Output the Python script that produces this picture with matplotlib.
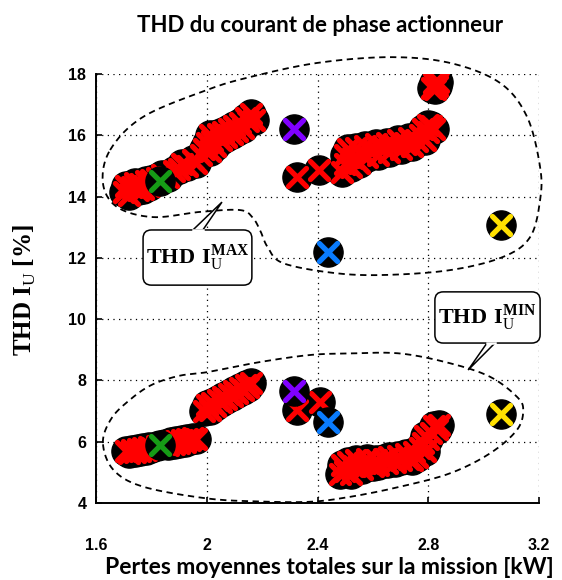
import numpy as np
import matplotlib
matplotlib.use("Agg")
import matplotlib.pyplot as plt
from matplotlib.markers import MarkerStyle
from matplotlib.patches import FancyBboxPatch, Polygon

plt.rcParams['mathtext.fontset'] = 'custom'
plt.rcParams['mathtext.rm'] = 'Liberation Serif'
plt.rcParams['mathtext.bf'] = 'Liberation Serif:bold'

# =========================
# Data
# =========================

# THD max, nuage gauche
max_a_x = [1.70, 1.71, 1.72, 1.73, 1.74, 1.75, 1.76, 1.77, 1.78, 1.79, 1.80, 1.82,
           1.84, 1.86, 1.88, 1.90, 1.91, 1.93, 1.95, 1.96, 1.98, 1.99, 2.00, 2.01,
           2.01, 2.02, 2.03, 2.04, 2.05, 2.06, 2.07, 2.08, 2.09, 2.10, 2.11, 2.12,
           2.13, 2.14, 2.15, 2.16, 2.17]
max_a_y = [14.15, 14.35, 14.05, 14.30, 14.45, 14.20, 14.40, 14.25, 14.50, 14.35, 14.55, 14.60,
           14.70, 14.65, 14.85, 14.90, 15.05, 15.00, 15.20, 15.10, 15.35, 15.55, 15.75, 15.50,
           16.00, 15.80, 15.65, 16.05, 15.85, 16.10, 15.95, 16.20, 16.05, 16.30, 16.15, 16.40,
           16.25, 16.55, 16.45, 16.70, 16.50]

# THD max, nuage droit
max_b_x = [2.325, 2.407, 2.49, 2.50, 2.50, 2.51, 2.52, 2.53, 2.54, 2.55, 2.56, 2.57,
           2.58, 2.60, 2.61, 2.62, 2.64, 2.65, 2.66, 2.68, 2.69, 2.70, 2.72, 2.73,
           2.74, 2.76, 2.77, 2.78, 2.79, 2.80, 2.81, 2.82, 2.80,
           2.815, 2.82, 2.83, 2.835, 2.825]
max_b_y = [14.65, 14.87, 14.80, 15.05, 15.35, 15.55, 14.95, 15.25, 15.60, 15.10, 15.40, 15.65,
           15.30, 15.50, 15.70, 15.35, 15.60, 15.75, 15.45, 15.65, 15.85, 15.55, 15.70, 15.90,
           15.65, 15.80, 16.00, 16.20, 15.85, 16.10, 16.30, 16.20, 16.35,
           17.55, 17.70, 17.60, 17.75, 17.50]

# THD min, nuage gauche
min_a_x = [1.71, 1.72, 1.73, 1.74, 1.75, 1.76, 1.77, 1.78, 1.79, 1.80, 1.82, 1.85,
           1.86, 1.87, 1.88, 1.89, 1.90, 1.91, 1.92, 1.93, 1.94, 1.95, 1.96,
           1.99, 2.00, 2.01, 2.02, 2.03, 2.04, 2.05, 2.06, 2.07, 2.08, 2.09, 2.10,
           2.11, 2.12, 2.13, 2.14, 2.15, 2.16]
min_a_y = [5.70, 5.62, 5.74, 5.66, 5.76, 5.70, 5.80, 5.74, 5.84, 5.78, 5.86, 5.94,
           5.88, 5.98, 5.92, 6.02, 5.96, 6.04, 6.00, 6.08, 6.04, 6.12, 6.08,
           7.00, 7.20, 7.05, 7.25, 7.15, 7.35, 7.30, 7.45, 7.40, 7.55, 7.50, 7.65,
           7.60, 7.75, 7.70, 7.85, 7.80, 7.90]

# THD min, nuage droit
min_b_x = [2.325, 2.41, 2.48, 2.49, 2.50, 2.51, 2.52, 2.53, 2.54, 2.56, 2.57, 2.58,
           2.60, 2.61, 2.62, 2.64, 2.65, 2.66, 2.68, 2.69, 2.70, 2.72, 2.73, 2.74,
           2.75, 2.76, 2.77, 2.78, 2.79, 2.79, 2.80, 2.81, 2.82, 2.83, 2.84]
min_b_y = [7.03, 7.28, 4.95, 5.25, 5.05, 5.35, 4.95, 5.20, 5.40, 5.10, 5.30, 5.45,
           5.20, 5.40, 5.25, 5.45, 5.30, 5.50, 5.35, 5.55, 5.40, 5.60, 5.45, 5.40,
           5.65, 5.50, 5.80, 5.95, 5.70, 6.20, 6.10, 6.30, 6.50, 6.40, 6.55]

# points particuliers (memes pertes pour max et min)
special_colors = ['#169b16', '#8000ff', '#0a7cff', '#ffe000']
special_x = [1.83, 2.315, 2.437, 3.062]
special_max_y = [14.50, 16.20, 12.20, 13.07]
special_min_y = [5.90, 7.67, 6.65, 6.89]

# contours en pointilles
max_zone_x = [1.651, 1.770, 2.001, 2.156, 2.398, 2.662, 2.879, 3.059, 3.157, 3.204,
              3.204, 3.168, 3.070, 2.879, 2.637, 2.456, 2.275, 2.220, 2.195, 2.167,
              2.120, 1.976, 1.806, 1.676, 1.625]
max_zone_y = [15.52, 16.60, 17.48, 17.90, 18.36, 18.55, 18.36, 17.71, 16.60, 14.96,
              13.89, 12.68, 12.03, 11.60, 11.44, 11.51, 11.83, 12.35, 12.85, 13.30,
              13.56, 13.50, 13.33, 13.66, 14.44]

min_zone_x = [1.625, 1.655, 1.720, 1.800, 1.900, 2.001, 2.192, 2.373, 2.517, 2.698,
              2.879, 3.023, 3.120, 3.143, 3.120, 3.023, 2.879, 2.698, 2.517, 2.373,
              2.190, 2.000, 1.771, 1.663]
min_zone_y = [5.96, 6.75, 7.35, 7.85, 8.15, 8.27, 8.60, 8.83, 8.88, 8.88,
              8.56, 8.12, 7.47, 7.03, 6.38, 5.62, 4.97, 4.53, 4.20, 4.04,
              4.05, 4.15, 4.53, 5.08]

x_ticks = [1.6, 2.0, 2.4, 2.8, 3.2]
x_tick_labels = ['1.6', '2', '2.4', '2.8', '3.2']
y_ticks = [4, 6, 8, 10, 12, 14, 16, 18]


def closed_curve(xs, ys, n=24):
    # Catmull-Rom fermee pour lisser le contour
    pts = np.column_stack([xs, ys])
    N = len(pts)
    t = np.linspace(0, 1, n, endpoint=False)[:, None]
    segs = []
    for i in range(N):
        p0, p1, p2, p3 = pts[i - 1], pts[i], pts[(i + 1) % N], pts[(i + 2) % N]
        segs.append(0.5 * (2 * p1 + (-p0 + p2) * t
                           + (2 * p0 - 5 * p1 + 4 * p2 - p3) * t ** 2
                           + (-p0 + 3 * p1 - 3 * p2 + p3) * t ** 3))
    segs.append(pts[:1])
    c = np.vstack(segs)
    return c[:, 0], c[:, 1]


# =========================
# Figure
# =========================

fig = plt.figure(figsize=(5.62, 5.80), dpi=100)
ax = fig.add_axes([96 / 562, 1 - 503 / 580, 443 / 562, 429 / 580])

ax.set_xlim(1.6, 3.2)
ax.set_ylim(4, 18)

ax.grid(True, color='black', linestyle=(0, (1, 3.5)), linewidth=0.9)
ax.set_axisbelow(True)

for s in ['top', 'right']:
    ax.spines[s].set_visible(False)
for s in ['left', 'bottom']:
    ax.spines[s].set_linewidth(1.4)

ax.set_xticks(x_ticks)
ax.set_xticklabels(x_tick_labels)
ax.set_yticks(y_ticks)
ax.tick_params(direction='in', length=4, width=1.2, labelsize=11.5)
ax.tick_params(axis='x', pad=25)
ax.tick_params(axis='y', pad=7)
for lab in ax.get_xticklabels() + ax.get_yticklabels():
    lab.set_fontfamily('Liberation Sans')
    lab.set_fontweight('bold')

# markers
xm = MarkerStyle('x', capstyle='round')
circ_size = 21
x_size = 13.5
x_width = 3.8

red_x = max_a_x + max_b_x + min_a_x + min_b_x
red_y = max_a_y + max_b_y + min_a_y + min_b_y

ax.plot(red_x, red_y, linestyle='none', marker='o', markersize=circ_size,
        markerfacecolor='black', markeredgecolor='black', zorder=3)
ax.plot(red_x, red_y, linestyle='none', marker=xm, markersize=x_size,
        markeredgewidth=x_width, color='#ff0000', zorder=4)

z = 5
for c, xs, y1, y2 in zip(special_colors, special_x, special_max_y, special_min_y):
    for yy in [y1, y2]:
        ax.plot([xs], [yy], linestyle='none', marker='o', markersize=circ_size,
                markerfacecolor='black', markeredgecolor='black', zorder=z)
        ax.plot([xs], [yy], linestyle='none', marker=xm, markersize=x_size,
                markeredgewidth=x_width, color=c, zorder=z + 1)
    z += 2

# zones en pointilles
for zx, zy in [(max_zone_x, max_zone_y), (min_zone_x, min_zone_y)]:
    cx, cy = closed_curve(zx, zy)
    ax.plot(cx, cy, color='black', linestyle=(0, (3.5, 2.5)), linewidth=1.3,
            clip_on=False, zorder=2)

# bulles
aspect = (1 / 30.64) / (0.4 / 110.75)


def callout(x0, x1, y0, y1, wedge, label):
    box = FancyBboxPatch((x0, y0), x1 - x0, y1 - y0,
                         boxstyle='round,pad=0,rounding_size=0.03',
                         mutation_aspect=aspect,
                         facecolor='white', edgecolor='black', linewidth=1.1,
                         zorder=20, clip_on=False)
    ax.add_patch(box)
    wp = Polygon(wedge, closed=True, facecolor='white', edgecolor='black',
                 linewidth=1.1, zorder=21, clip_on=False)
    ax.add_patch(wp)
    ax.plot([wedge[0][0], wedge[2][0]], [wedge[0][1], wedge[2][1]],
            color='white', linewidth=1.8, zorder=22, clip_on=False)
    ax.text((x0 + x1) / 2, (y0 + y1) / 2, label, ha='center', va='center',
            fontsize=16, zorder=23)


callout(1.770, 2.163, 11.11, 12.91,
        [(1.950, 12.91), (2.055, 13.82), (1.986, 12.91)],
        r'$\mathbf{THD\ I}_{\mathrm{U}}^{\mathbf{MAX}}$')
callout(2.824, 3.204, 9.22, 10.89,
        [(3.012, 9.22), (2.944, 8.34), (3.041, 9.22)],
        r'$\mathbf{THD\ I}_{\mathrm{U}}^{\mathbf{MIN}}$')

# textes
fig.text(320 / 562, 1 - 25 / 580, 'THD du courant de phase actionneur',
         ha='center', va='center', fontsize=16, fontweight='bold', family='Lato')
fig.text(329 / 562, 1 - 567 / 580, 'Pertes moyennes totales sur la mission [kW]',
         ha='center', va='center', fontsize=16.5, fontweight='bold', family='Lato')
fig.text(25 / 562, 1 - 290 / 580, r'THD I$_{\mathrm{U}}$ [%]', rotation=90,
         ha='center', va='center', fontsize=18, fontweight='bold',
         family='Liberation Serif')

fig.savefig('out.png', dpi=100)
